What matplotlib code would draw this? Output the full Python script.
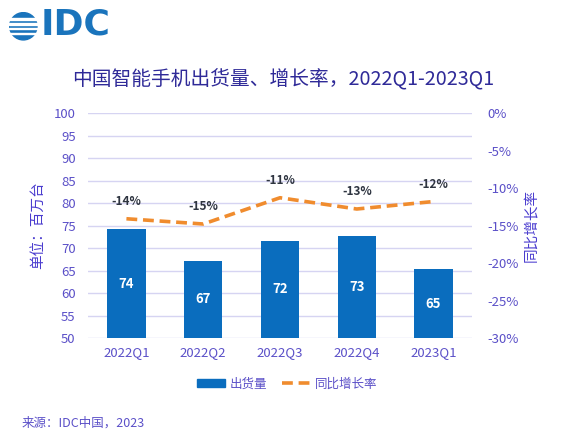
import matplotlib.pyplot as plt
from matplotlib.patches import Circle, Rectangle
from matplotlib.lines import Line2D

plt.rcParams['font.family'] = ['Noto Sans CJK SC', 'DejaVu Sans']

# 数据
quarters = ['2022Q1', '2022Q2', '2022Q3', '2022Q4', '2023Q1']
shipments = [74.2, 67.2, 71.6, 72.6, 65.3]      # 百万台
growth = [-14.1, -14.8, -11.3, -12.8, -11.8]     # 同比增长率 %

bar_color = '#0a6dbe'
line_color = '#f08c2e'
tick_color = '#5b50c8'
title_color = '#2f2a98'
grid_color = '#d6d4f2'

fig = plt.figure(figsize=(5.69, 4.38), dpi=100)
ax = fig.add_axes([0.1547, 0.2283, 0.6748, 0.5137])
ax2 = ax.twinx()

x = list(range(len(quarters)))
bars = ax.bar(x, shipments, width=0.5, color=bar_color, zorder=2)
ax.set_ylim(50, 100)
ax.set_yticks(range(50, 101, 5))
ax.set_xlim(-0.5, len(quarters) - 0.5)
ax.set_xticks(x)
ax.set_xticklabels(quarters)
ax.grid(axis='y', color=grid_color, lw=1, zorder=0)
ax.set_axisbelow(True)

for xi, v in zip(x, shipments):
    ax.text(xi, (50 + v) / 2, f'{v:.0f}', ha='center', va='center',
            color='white', fontsize=9.5, fontweight='bold')

ax2.plot(x, growth, color=line_color, lw=2.6, ls=(0, (3, 1.6)), zorder=3)
ax2.set_ylim(-30, 0)
ax2.set_yticks(range(-30, 1, 5))
ax2.set_yticklabels([f'{t}%' for t in range(-30, 1, 5)])
for xi, g in zip(x, growth):
    ax2.annotate(f'{round(g):.0f}%', (xi, g), xytext=(0, 12.5), textcoords='offset points',
                 ha='center', va='center', fontsize=8.5, fontweight='bold', color='#2e3440')

for a in (ax, ax2):
    for s in a.spines.values():
        s.set_visible(False)
    a.tick_params(length=0, labelsize=9.5, colors=tick_color)
ax.tick_params(axis='x', pad=6)
ax.tick_params(axis='y', pad=9)
ax2.tick_params(axis='y', pad=11)

ax.set_ylabel('单位：百万台', color='#4a3ccf', fontsize=10.5, labelpad=6)
ax2.set_ylabel('同比增长率', color='#4a3ccf', fontsize=10.5, rotation=90, labelpad=4)

fig.text(0.497, 0.817, '中国智能手机出货量、增长率，2022Q1-2023Q1', ha='center', va='center',
         fontsize=14.2, color=title_color)

# 图例
leg_handles = [Rectangle((0, 0), 1, 1, color=bar_color),
               Line2D([0], [0], color=line_color, lw=2.6, ls=(0, (3, 1.6)))]
fig.legend(leg_handles, ['出货量', '同比增长率'], loc='center', bbox_to_anchor=(0.505, 0.123),
           ncol=2, frameon=False, fontsize=9, labelcolor=tick_color, handlelength=2.2,
           handleheight=0.6, columnspacing=1.2, handletextpad=0.4)

fig.text(0.038, 0.034, '来源：IDC中国，2023', fontsize=9, color=tick_color, va='center')

# IDC 标志
logo = fig.add_axes([0.016, 0.905, 0.05, 0.07])
logo.set_xlim(0, 1)
logo.set_ylim(0, 1)
logo.set_aspect('equal')
logo.axis('off')
logo.add_patch(Circle((0.5, 0.5), 0.48, color='#1a74bc'))
for yy in [0.22, 0.39, 0.56, 0.73]:
    logo.add_patch(Rectangle((0, yy), 1, 0.06, color='white'))
fig.text(0.071, 0.945, 'IDC', fontsize=26, fontweight='bold', color='#1a74bc',
         va='center', family='DejaVu Sans')

fig.savefig('out.png', dpi=100)
